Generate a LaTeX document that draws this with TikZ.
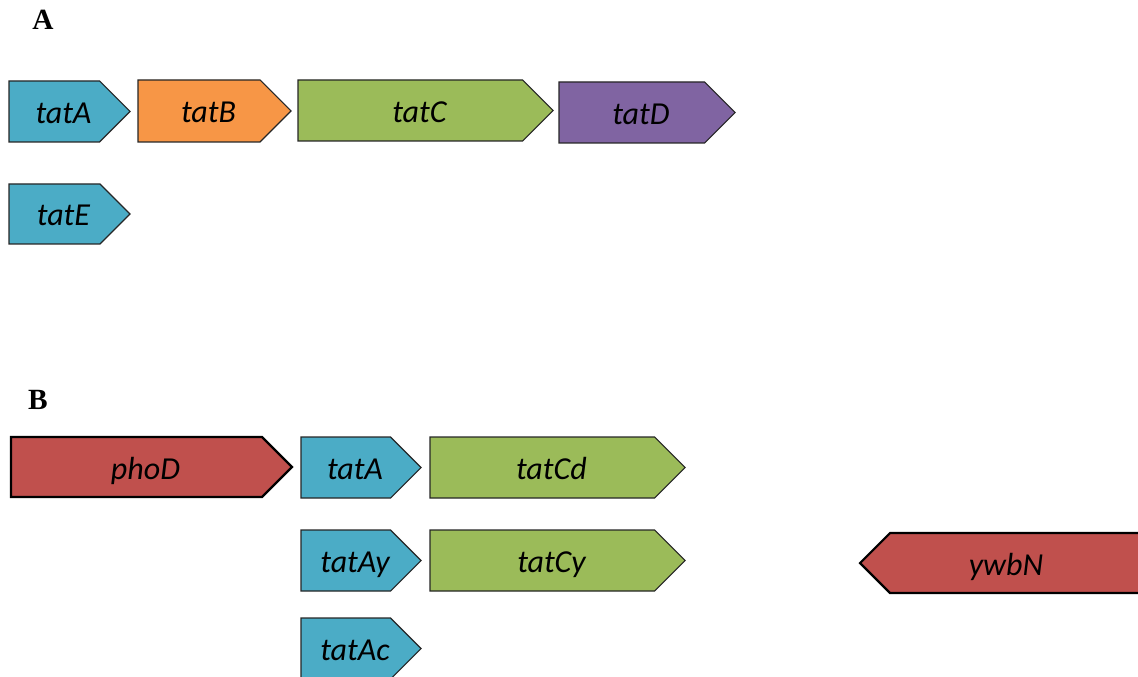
\documentclass[tikz,border=0pt]{standalone}
\usepackage{fontspec}
\setmainfont{Carlito}
\newfontfamily\headfont{Liberation Serif}
\definecolor{geneblue}{HTML}{4BACC6}
\definecolor{geneorange}{HTML}{F79646}
\definecolor{genegreen}{HTML}{9BBB59}
\definecolor{genepurple}{HTML}{8064A2}
\definecolor{genered}{HTML}{C0504D}
\tikzset{
  genebox/.style={draw=black!85, line width=0.8pt, line join=miter},
  genethick/.style={draw=black, line width=1.6pt, line join=miter},
  genelabel/.style={font=\fontsize{24}{28}\selectfont\itshape, text=black,
    inner sep=0pt, anchor=base},
  panellabel/.style={font=\headfont\fontsize{22}{26}\selectfont\bfseries, inner sep=0pt}
}
% forward gene: name, left x, tip x, top y, bottom y, style, label
\newcommand\fwdgene[7]{%
  \path[#6] (#2,#4) -- ({#3-(#5-#4)/2},#4) -- (#3,{(#4+#5)/2})
    -- ({#3-(#5-#4)/2},#5) -- (#2,#5) -- cycle;
  \node[genelabel] (#1) at ({(#2+#3)/2-6},{(#4+#5)/2+12}) {#7};}
\begin{document}
\begin{tikzpicture}[x=0.75pt, y=-0.75pt]
\useasboundingbox (0,0) rectangle (1138,677);
\clip (0,0) rectangle (1138,677);
% panel A
\node[panellabel] (labA) at (43,20) {A};
\fwdgene{tatA}{9}{130}{81}{142}{genebox, fill=geneblue}{tatA}
\fwdgene{tatB}{138}{291}{80}{142}{genebox, fill=geneorange}{tatB}
\fwdgene{tatC}{298}{553}{80}{141}{genebox, fill=genegreen}{tatC}
\fwdgene{tatD}{559}{735}{82}{143}{genebox, fill=genepurple}{tatD}
\fwdgene{tatE}{9}{130}{184}{244}{genebox, fill=geneblue}{tatE}
% panel B
\node[panellabel] (labB) at (38,400) {B};
\fwdgene{phoD}{11}{292}{437}{497}{genethick, fill=genered}{phoD}
\fwdgene{tatAB}{301}{421}{437}{498}{genebox, fill=geneblue}{tatA}
\fwdgene{tatCd}{430}{685}{437}{498}{genebox, fill=genegreen}{tatCd}
\fwdgene{tatAy}{301}{421}{530}{591}{genebox, fill=geneblue}{tatAy}
\fwdgene{tatCy}{430}{685}{530}{591}{genebox, fill=genegreen}{tatCy}
\fwdgene{tatAc}{301}{421}{618}{679}{genebox, fill=geneblue}{tatAc}
% reverse-strand gene running off the right edge
\path[genethick, fill=genered] (1150,533) -- (890,533) -- (860,563)
  -- (890,593) -- (1150,593) -- cycle;
\node[genelabel] (ywbN) at (1006,575) {ywbN};
\end{tikzpicture}
\end{document}
